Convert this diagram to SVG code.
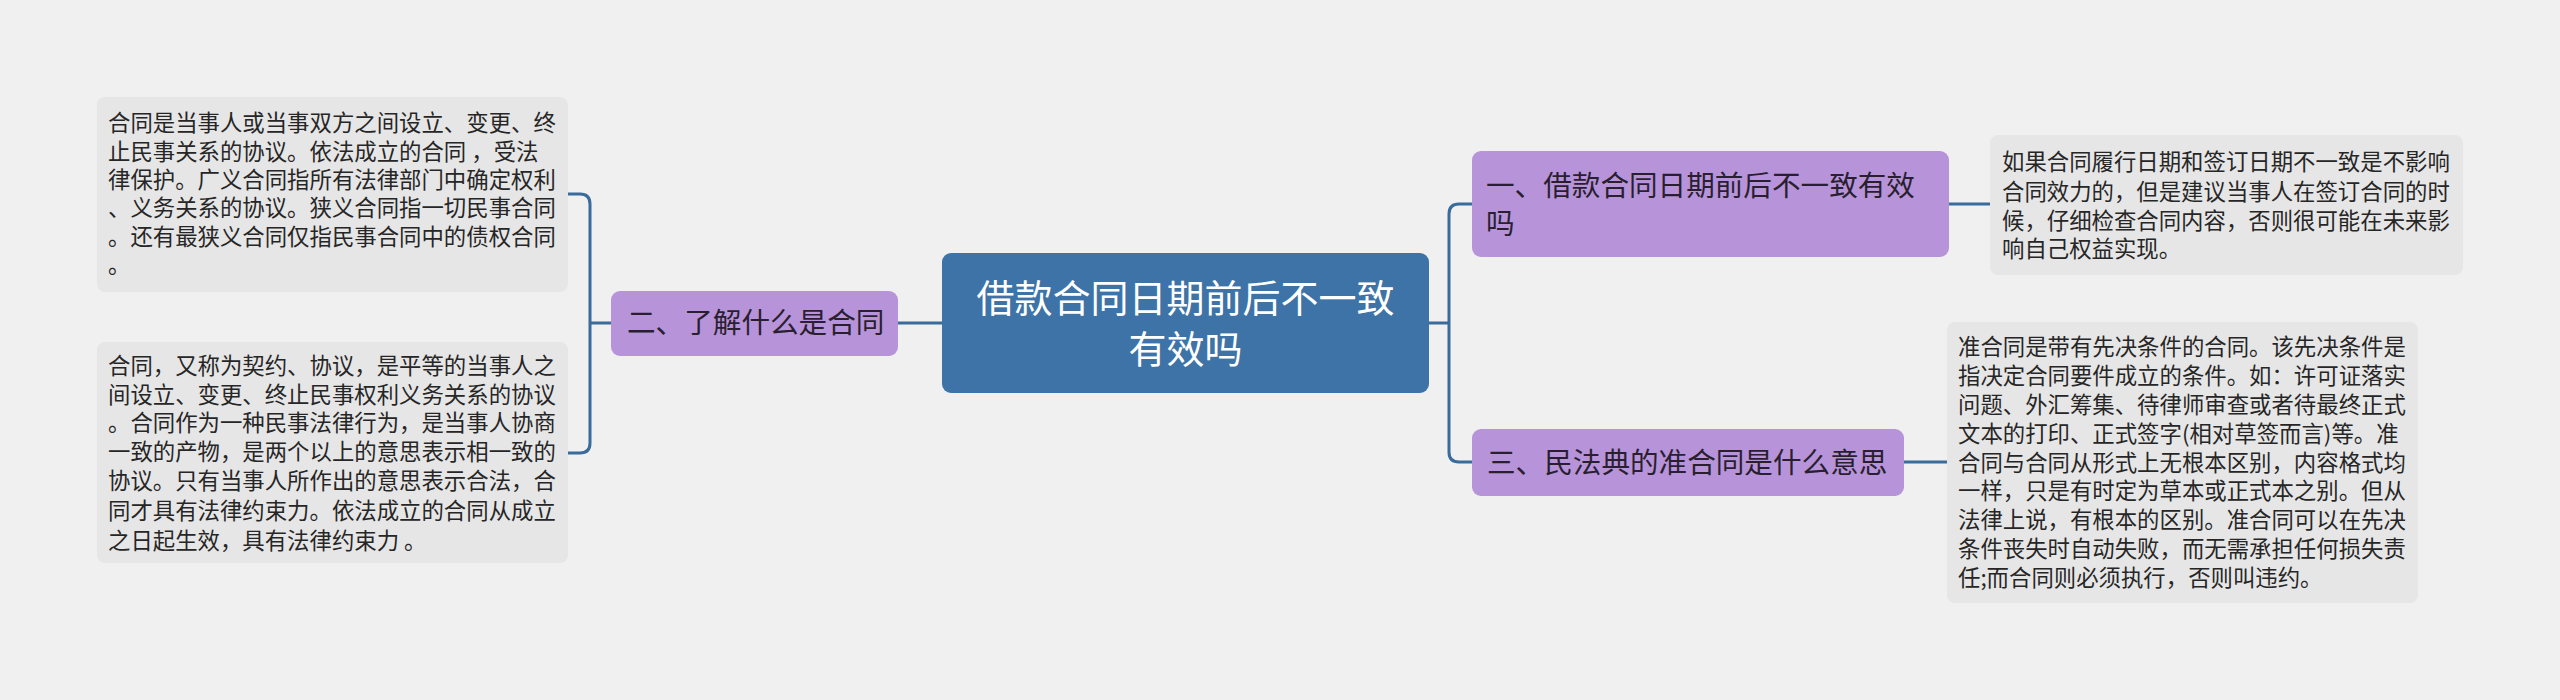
<svg xmlns="http://www.w3.org/2000/svg" width="2560" height="700" viewBox="0 0 2560 700">
<style>
text{font-family:"Microsoft YaHei","Noto Sans CJK SC","Noto Sans",sans-serif;}
.leaf rect{fill:#e6e6e6;}
.leaf text{font-size:22.4px;fill:#262626;}
.branch rect{fill:#b794d9;}
.branch text{font-size:28.6px;fill:#2a1f30;}
.root rect{fill:#3d73a6;}
.root text{font-size:38px;fill:#ffffff;text-anchor:middle;}
.conn path{fill:none;stroke:#396b9b;stroke-width:3;}
</style>
<rect width="2560" height="700" fill="#f0f0f0"/>
<g class="conn" id="connectors">
<path d="M942 323 H898"/>
<path d="M611 323 H590"/>
<path d="M568 194 H580 Q590 194 590 204 V443 Q590 453 580 453 H568"/>
<path d="M1429 323 H1449"/>
<path d="M1472 204 H1459 Q1449 204 1449 214 V452 Q1449 462 1459 462 H1472"/>
<path d="M1949 204 H1990"/>
<path d="M1904 462 H1947"/>
</g>
<g class="root" id="root">
<rect x="942" y="253" width="487" height="140" rx="9"/>
<text x="1185.5" y="312">借款合同日期前后不一致</text>
<text x="1185.5" y="363">有效吗</text>
</g>
<g class="branch" id="b2">
<rect x="611" y="291" width="287" height="65" rx="9"/>
<text x="627" y="333">二、了解什么是合同</text>
</g>
<g class="branch" id="b1">
<rect x="1472" y="151" width="477" height="106" rx="9"/>
<text x="1486" y="196">一、借款合同日期前后不一致有效</text>
<text x="1486" y="234">吗</text>
</g>
<g class="branch" id="b3">
<rect x="1472" y="429" width="432" height="67" rx="9"/>
<text x="1487" y="473">三、民法典的准合同是什么意思</text>
</g>
<g class="leaf" id="leaf2a">
<rect x="97" y="97" width="471" height="195" rx="8"/>
<text x="108" y="131">合同是当事人或当事双方之间设立、变更、终</text>
<text x="108" y="159.5">止民事关系的协议。依法成立的合同 ，受法</text>
<text x="108" y="188">律保护。广义合同指所有法律部门中确定权利</text>
<text x="108" y="216">、义务关系的协议。狭义合同指一切民事合同</text>
<text x="108" y="244.5">。还有最狭义合同仅指民事合同中的债权合同</text>
<text x="108" y="273">。</text>
</g>
<g class="leaf" id="leaf2b">
<rect x="97" y="342" width="471" height="221" rx="8"/>
<text x="108" y="374">合同，又称为契约、协议，是平等的当事人之</text>
<text x="108" y="403">间设立、变更、终止民事权利义务关系的协议</text>
<text x="108" y="431">。合同作为一种民事法律行为，是当事人协商</text>
<text x="108" y="459.5">一致的产物，是两个以上的意思表示相一致的</text>
<text x="108" y="488.5">协议。只有当事人所作出的意思表示合法，合</text>
<text x="108" y="519">同才具有法律约束力。依法成立的合同从成立</text>
<text x="108" y="549">之日起生效，具有法律约束力 。</text>
</g>
<g class="leaf" id="leaf1">
<rect x="1990" y="135" width="473" height="140" rx="8"/>
<text x="2002" y="170">如果合同履行日期和签订日期不一致是不影响</text>
<text x="2002" y="199.5">合同效力的，但是建议当事人在签订合同的时</text>
<text x="2002" y="228.5">候，仔细检查合同内容，否则很可能在未来影</text>
<text x="2002" y="257">响自己权益实现。</text>
</g>
<g class="leaf" id="leaf3">
<rect x="1947" y="322" width="471" height="281" rx="8"/>
<text x="1958" y="354.5">准合同是带有先决条件的合同。该先决条件是</text>
<text x="1958" y="383.5">指决定合同要件成立的条件。如：许可证落实</text>
<text x="1958" y="412.5">问题、外汇筹集、待律师审查或者待最终正式</text>
<text x="1958" y="441.5">文本的打印、正式签字(相对草签而言)等。准</text>
<text x="1958" y="470.5">合同与合同从形式上无根本区别，内容格式均</text>
<text x="1958" y="499">一样，只是有时定为草本或正式本之别。但从</text>
<text x="1958" y="528">法律上说，有根本的区别。准合同可以在先决</text>
<text x="1958" y="557">条件丧失时自动失败，而无需承担任何损失责</text>
<text x="1958" y="586">任;而合同则必须执行，否则叫违约。</text>
</g>
</svg>
